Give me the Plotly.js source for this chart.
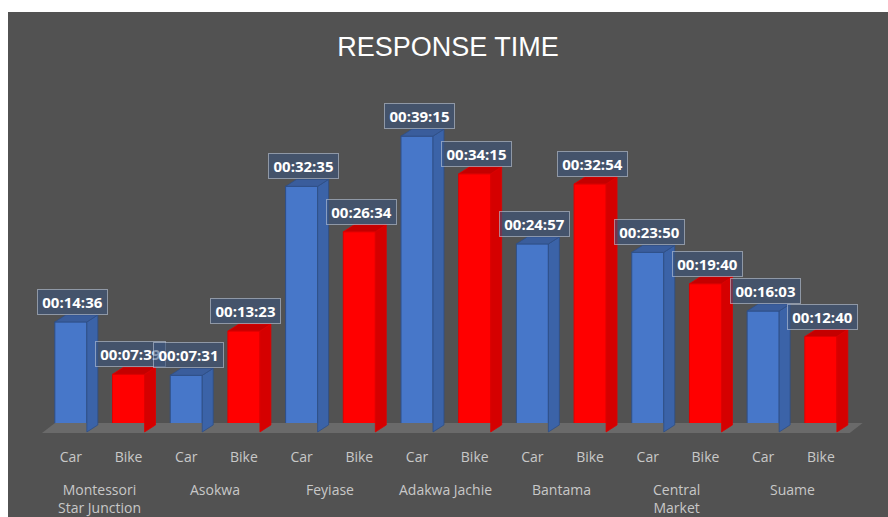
<!DOCTYPE html>
<html>
<head>
<meta charset="utf-8">
<script src="https://cdn.plot.ly/plotly-3.0.1.min.js"></script>
<style>
  html, body { margin: 0; padding: 0; background: #ffffff; width: 888px; height: 517px; overflow: hidden; }
  #chart { position: absolute; left: 8px; top: 12px; width: 880px; height: 505px; }
</style>
</head>
<body>
<div id="chart"></div>
<script>
// ---- data ----
const locations = ['Montessori<br>Star Junction', 'Asokwa', 'Feyiase', 'Adakwa Jachie', 'Bantama', 'Central<br>Market', 'Suame'];
const vehicles = ['Car', 'Bike'];
const carTimes  = ['00:14:36', '00:07:31', '00:32:35', '00:39:15', '00:24:57', '00:23:50', '00:16:03'];
const bikeTimes = ['00:07:39', '00:13:23', '00:26:34', '00:34:15', '00:32:54', '00:19:40', '00:12:40'];

// ---- helpers ----
function toSec(t) { const p = t.split(':').map(Number); return p[0] * 3600 + p[1] * 60 + p[2]; }

const xs = [], vals = [], labels = [], kinds = [], tickText = [];
locations.forEach((loc, g) => {
  [carTimes[g], bikeTimes[g]].forEach((t, k) => {
    xs.push(g * 2 + k);
    vals.push(toSec(t));
    labels.push(t);
    kinds.push(k);
    tickText.push(vehicles[k]);
  });
});

const styles = [
  { front: '#4777C9', side: '#3B63A8', top: '#3A5D9C', line: '#2F4F86' },
  { front: '#FF0000', side: '#D50000', top: '#C40000', line: '#E00000' }
];

const BAR_W = 0.555, HW = BAR_W / 2;
const DX = 0.19, DY = 56;           // depth offset (axis units)
const FDX = 0.225, FDY = 80, F0 = -8; // floor
const N = xs.length;

const traces = [];
// floor
traces.push({
  type: 'scatter', mode: 'lines', fill: 'toself', hoverinfo: 'skip',
  x: [-0.5, N - 0.5, N - 0.5 + FDX, -0.5 + FDX, -0.5],
  y: [F0, F0, F0 + FDY, F0 + FDY, F0],
  line: { width: 0, color: '#6A6A6A' }, fillcolor: '#6A6A6A', showlegend: false
});
// side and top faces
xs.forEach((x, i) => {
  const v = vals[i], s = styles[kinds[i]];
  traces.push({
    type: 'scatter', mode: 'lines', fill: 'toself', hoverinfo: 'skip', showlegend: false,
    x: [x + HW, x + HW + DX, x + HW + DX, x + HW, x + HW],
    y: [0, DY, v + DY, v, 0],
    line: { width: 0.8, color: s.line }, fillcolor: s.side
  });
  traces.push({
    type: 'scatter', mode: 'lines', fill: 'toself', hoverinfo: 'skip', showlegend: false,
    x: [x - HW, x + HW, x + HW + DX, x - HW + DX, x - HW],
    y: [v, v, v + DY, v + DY, v],
    line: { width: 0.8, color: s.line }, fillcolor: s.top
  });
});
// front faces
traces.push({
  type: 'bar', x: xs, y: vals, width: BAR_W, hoverinfo: 'skip', showlegend: false,
  marker: {
    color: kinds.map(k => styles[k].front),
    line: { width: 1, color: kinds.map(k => styles[k].line) }
  }
});

const annotations = [];
xs.forEach((x, i) => {
  annotations.push({
    x: x, y: vals[i], xref: 'x', yref: 'y', text: labels[i], showarrow: false,
    xanchor: 'center', yanchor: 'bottom', yshift: 7, xshift: 2,
    font: { family: 'Open Sans, sans-serif', size: 15, color: '#ffffff', weight: 700 },
    bgcolor: 'rgba(60,85,125,0.6)', bordercolor: 'rgba(200,210,225,0.55)',
    borderwidth: 1, borderpad: 3, width: 63, height: 18
  });
});
locations.forEach((loc, g) => {
  annotations.push({
    x: g * 2 + 0.5, y: 0, xref: 'x', yref: 'paper', text: loc, showarrow: false,
    xanchor: 'center', yanchor: 'top', yshift: -41, align: 'center',
    font: { family: 'Open Sans, sans-serif', size: 14, color: '#C8C8C8' }
  });
});

const layout = {
  width: 880, height: 505,
  paper_bgcolor: '#525252', plot_bgcolor: 'rgba(0,0,0,0)',
  margin: { l: 34, r: 21, t: 70, b: 80 },
  title: {
    text: 'RESPONSE TIME', x: 0.5, xanchor: 'center', y: 0.931, yanchor: 'middle',
    font: { family: '"Liberation Sans", Arial, sans-serif', size: 27, color: '#ffffff' }
  },
  xaxis: {
    range: [-0.5, 13.8], showgrid: false, zeroline: false, showline: false,
    tickmode: 'array', tickvals: xs, ticktext: tickText,
    ticks: 'outside', ticklen: 7, tickcolor: 'rgba(0,0,0,0)',
    tickfont: { family: 'Open Sans, sans-serif', size: 14, color: '#C8C8C8' },
    fixedrange: true
  },
  yaxis: { range: [-40, 2786], visible: false, showgrid: false, zeroline: false, fixedrange: true },
  annotations: annotations,
  showlegend: false,
  barmode: 'overlay'
};

Plotly.newPlot('chart', traces, layout, { displayModeBar: false, staticPlot: true });
</script>
</body>
</html>
